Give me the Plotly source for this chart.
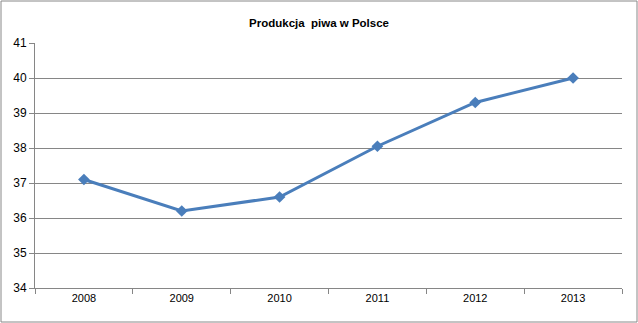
import plotly.graph_objects as go

# Beer production in Poland
years = ["2008", "2009", "2010", "2011", "2012", "2013"]
production = [37.1, 36.2, 36.6, 38.05, 39.3, 40.0]
y_ticks = [34, 35, 36, 37, 38, 39, 40, 41]

W, H = 638, 323
L, R, T, B = 35, 16, 43, 35
pw, ph = W - L - R, H - T - B

fig = go.Figure(
    go.Scatter(
        x=years,
        y=production,
        mode="lines+markers",
        line=dict(color="#4a7ebb", width=3),
        marker=dict(symbol="diamond", size=9, color="#4a7ebb"),
        hoverinfo="skip",
    )
)

grid = "#868686"
fig.update_layout(
    width=W,
    height=H,
    margin=dict(l=L, r=R, t=T, b=B),
    paper_bgcolor="white",
    plot_bgcolor="white",
    showlegend=False,
    font=dict(family="Liberation Sans, Arial, sans-serif", size=11, color="#000000"),
    title=dict(
        text="<b>Produkcja  piwa w Polsce</b>",
        x=0.5,
        xanchor="center",
        y=1 - 23 / H,
        yanchor="middle",
        font=dict(size=11.5, family="Liberation Sans, Arial, sans-serif"),
    ),
    xaxis=dict(
        type="category",
        range=[-0.5, 5.5],
        showgrid=False,
        showline=True,
        linecolor=grid,
        linewidth=1,
        ticks="outside",
        tickson="boundaries",
        ticklen=5,
        tickcolor=grid,
        tickfont=dict(size=11),
        fixedrange=True,
    ),
    yaxis=dict(
        range=[34, 41],
        tickvals=y_ticks,
        showgrid=True,
        gridcolor=grid,
        gridwidth=1,
        showline=True,
        linecolor=grid,
        linewidth=1,
        ticks="outside",
        ticklen=5,
        tickcolor=grid,
        zeroline=False,
        tickfont=dict(size=12),
        fixedrange=True,
    ),
    shapes=[
        dict(
            type="rect",
            xref="paper",
            yref="paper",
            x0=(1 - L) / pw,
            x1=(W - 1 - L) / pw,
            y0=(T + ph - (H - 1)) / ph,
            y1=(T + ph - 1) / ph,
            line=dict(color="#888888", width=1),
            layer="below",
        )
    ],
)

fig.write_html("out.html")
